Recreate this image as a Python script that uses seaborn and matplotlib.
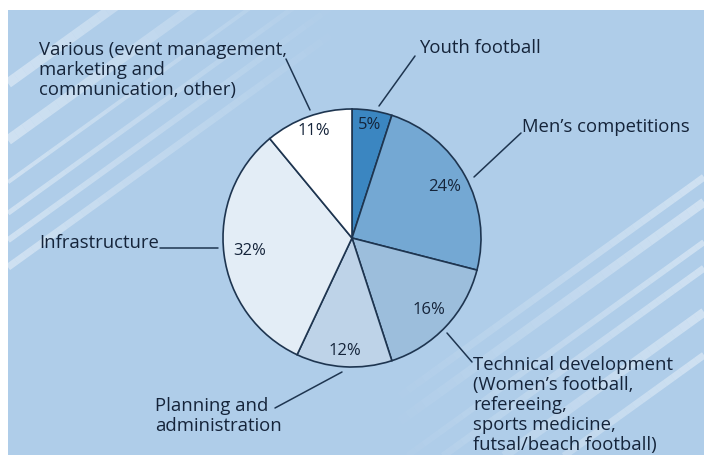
import matplotlib
matplotlib.use('Agg')
import matplotlib.pyplot as plt
import seaborn as sns
import numpy as np
from matplotlib.collections import LineCollection
from matplotlib.patches import Rectangle

# data (clockwise from 12 o'clock)
categories = [
    "Youth football",
    "Men\u2019s competitions",
    "Technical development\n(Women\u2019s football,\nrefereeing,\nsports medicine,\nfutsal/beach football)",
    "Planning and\nadministration",
    "Infrastructure",
    "Various (event management,\nmarketing and\ncommunication, other)",
]
shares = [5, 24, 16, 12, 32, 11]

slice_colors = ['#3b86c1', '#74a8d3', '#9cbedc', '#bed3e8', '#e3edf6', '#ffffff']
pct_dist = [0.89, 0.82, 0.82, 0.88, 0.80, 0.88]

# label layout in image pixels: text anchor (x, y), connector start and end
label_pos = [(419, 48), (522, 127), (473, 405), (155, 416), (39, 243), (39, 70)]
conn_from = [(415, 56), (521, 133), (447, 333), (275, 408), (160, 248), (286, 59)]
conn_to = [(379, 106), (474, 177), (472, 362), (342, 372), (218, 248), (310, 110)]

W, H = 704, 455
TXT = '#15243a'
EDGE = '#1e3550'


def py(y):
    """image pixel y -> data y"""
    return H - y


def add_stripes(ax, intercepts, widths, x_start, x_end):
    """faded diagonal light stripes, y = c - 0.72 x in image coordinates"""
    for c, w in zip(intercepts, widths):
        xs = np.linspace(x_start, x_end, 40)
        ys = c - 0.72 * xs
        pts = np.column_stack([xs, py(ys)])
        segs = [pts[i:i + 2] for i in range(len(pts) - 1)]
        alphas = np.linspace(0.4, 0.02, len(segs))
        cols = [(1, 1, 1, a) for a in alphas]
        lc = LineCollection(segs, colors=cols, linewidths=w * 0.72, capstyle='butt')
        lc.set_clip_path(bg)
        ax.add_collection(lc)


sns.set_style('white')
plt.rcParams['font.family'] = ['Open Sans', 'DejaVu Sans']

fig = plt.figure(figsize=(W / 100, H / 100), dpi=100)
ax = fig.add_axes([0, 0, 1, 1])

bg = Rectangle((8, 0), W - 8, py(10), facecolor='#afcde9', edgecolor='none', zorder=0)
ax.add_patch(bg)

add_stripes(ax, [89, 146, 188, 219, 246, 273], [10, 10, 4, 5, 6, 7], 8, 330)
add_stripes(ax, [684, 709, 749, 775, 819, 862], [7, 9, 6, 7, 9, 7], 704, 400)

cx, cy, r = 352, py(238), 129
wedges, _, autotexts = ax.pie(
    shares, colors=slice_colors, startangle=90, counterclock=False,
    center=(cx, cy), radius=r, autopct='%d%%', pctdistance=0.85,
    wedgeprops=dict(edgecolor=EDGE, linewidth=1.2),
    textprops=dict(color=TXT, fontsize=12), frame=False)

for w, t, d in zip(wedges, autotexts, pct_dist):
    mid = np.deg2rad((w.theta1 + w.theta2) / 2)
    t.set_position((cx + r * d * np.cos(mid), cy + r * d * np.sin(mid)))
    t.set_zorder(5)

for name, (tx, ty), p0, p1 in zip(categories, label_pos, conn_from, conn_to):
    ax.text(tx, py(ty), name, ha='left', va='center', color=TXT,
            fontsize=13.3, linespacing=1.14, zorder=6)
    ax.plot([p0[0], p1[0]], [py(p0[1]), py(p1[1])], color=EDGE, lw=1.1, zorder=6)

ax.set_xlim(0, W)
ax.set_ylim(0, H)
ax.set_aspect('auto')
ax.axis('off')

fig.savefig('out.png', dpi=100, facecolor='white')
